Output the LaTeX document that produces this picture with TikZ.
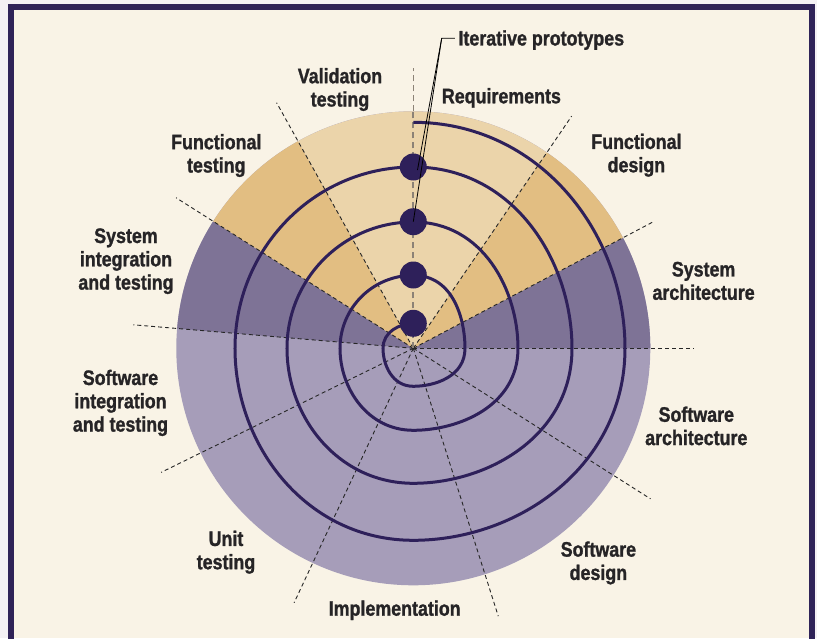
\documentclass[tikz,border=0pt]{standalone}
\usepackage{fontspec}
\newfontfamily\labfont{Liberation Sans}[FakeStretch=0.85,FakeBold=1.2]
\usetikzlibrary{calc}
\definecolor{bgcream}{RGB}{249,243,230}
\definecolor{outerc}{RGB}{244,241,244}
\definecolor{navy}{RGB}{46,32,90}
\definecolor{framec}{RGB}{47,35,88}
\definecolor{tanlight}{RGB}{235,212,170}
\definecolor{tandark}{RGB}{226,190,130}
\definecolor{purpdark}{RGB}{126,115,150}
\definecolor{purplight}{RGB}{166,157,185}
\definecolor{txt}{RGB}{38,36,38}
\definecolor{vgray}{RGB}{140,130,118}
\begin{document}
\begin{tikzpicture}[x=1pt,y=1pt,
  lab/.style={font=\labfont\bfseries\fontsize{21}{23.3}\selectfont, text=txt, inner sep=0pt, align=center},
  spokeline/.style={draw=black!85, line width=0.9pt, dash pattern=on 4pt off 3pt},
  vspoke/.style={draw=vgray, dash pattern=on 6pt off 4pt},
  pdot/.style={circle, fill=navy, inner sep=0pt, minimum size=27pt},
  spiralline/.style={draw=navy, line width=3pt},
  leader/.style={draw=black, line width=0.8pt}
]
\useasboundingbox (-413.3,-289.7) rectangle (403.7,348.3);
\fill[outerc] (-413.3,-289.7) rectangle (403.7,348.3);
\fill[bgcream] (-402.3,-289.7) rectangle (398.2,341.3);
\draw[framec, line width=6pt] (-402.3,-295) -- (-402.3,341.3) -- (398.2,341.3) -- (398.2,-295);

% disk
\coordinate (O) at (0,0);
\fill[purplight] (O) circle[radius=237pt];
\fill[purpdark] (O) -- (0:237) arc[start angle=0,end angle=27.8,radius=237pt] -- cycle;
\fill[purpdark] (O) -- (147.6:237) arc[start angle=147.6,end angle=175.2,radius=237pt] -- cycle;
\fill[tandark] (O) -- (27.8:237) arc[start angle=27.8,end angle=55.7,radius=237pt] -- cycle;
\fill[tandark] (O) -- (119.1:237) arc[start angle=119.1,end angle=147.6,radius=237pt] -- cycle;
\fill[tanlight] (O) -- (55.7:237) arc[start angle=55.7,end angle=119.1,radius=237pt] -- cycle;

% spokes
\foreach \a/\l [count=\i] in {0/281,27.8/270,55.7/281,119.1/281,147.6/281,175.2/281,206.2/281,244.9/281,287.6/281,327.6/281}
  \coordinate (e\i) at (\a:\l);
\foreach \i in {1,...,10} \draw[spokeline] (O) -- (e\i);
\coordinate (rim) at (90:237);
\coordinate (vtop) at (90:280);
\draw[vspoke, line width=2pt] (O) -- (rim);
\draw[vspoke, line width=1pt] (rim) -- (vtop);

% spiral
\coordinate (s0) at (0,24.7);
\coordinate (s1) at (-30.3,0);
\coordinate (s2) at (0,-38);
\coordinate (s3) at (51.7,0);
\coordinate (s4) at (0,73);
\coordinate (s5) at (-73.3,0);
\coordinate (s6) at (0,-82);
\coordinate (s7) at (104.7,0);
\coordinate (s8) at (0,126.3);
\coordinate (s9) at (-126.3,0);
\coordinate (s10) at (0,-135);
\coordinate (s11) at (158.7,0);
\coordinate (s12) at (0,181.3);
\coordinate (s13) at (-178.3,0);
\coordinate (s14) at (0,-192);
\coordinate (s15) at (211.7,0);
\coordinate (s16) at (0,226);
\draw[spiralline] (s0) .. controls +(180:13.64) and +(90:16.73) .. (s1)
 .. controls +(270:16.73) and +(180:20.99) .. (s2)
 .. controls +(0:20.99) and +(270:28.55) .. (s3)
 .. controls +(90:28.55) and +(0:40.32) .. (s4)
 .. controls +(180:40.32) and +(90:40.48) .. (s5)
 .. controls +(270:40.48) and +(180:45.29) .. (s6)
 .. controls +(0:45.29) and +(270:57.83) .. (s7)
 .. controls +(90:57.83) and +(0:69.76) .. (s8)
 .. controls +(180:69.76) and +(90:69.76) .. (s9)
 .. controls +(270:69.76) and +(180:74.56) .. (s10)
 .. controls +(0:74.56) and +(270:87.65) .. (s11)
 .. controls +(90:87.65) and +(0:100.13) .. (s12)
 .. controls +(180:100.13) and +(90:98.47) .. (s13)
 .. controls +(270:98.47) and +(180:106.04) .. (s14)
 .. controls +(0:106.04) and +(270:116.92) .. (s15)
 .. controls +(90:116.92) and +(0:124.82) .. (s16);

% prototype dots
\node[pdot] (d1) at (0,181.3) {};
\node[pdot] (d2) at (0,126.6) {};
\node[pdot] (d3) at (0,73.3) {};
\node[pdot] (d4) at (0,25) {};

% leader lines
\coordinate (lc) at (28.4,310);
\coordinate (lt) at (41.7,310);
\draw[leader] (lt) -- (lc) -- ($(d1.center)+(4.2,-3)$);
\draw[leader] (lc) -- (d2.center);

% labels
\node[lab, anchor=base west] (itp) at (45,302.8) {Iterative prototypes};
\node[lab, anchor=base west] (req) at (28.4,245) {Requirements};
\node[lab] (val) at (-73.3,258.8) {Validation\\testing};
\node[lab] (ftest) at (-197,192.8) {Functional\\testing};
\node[lab] (fdes) at (223.1,193.1) {Functional\\design};
\node[lab] (sysint) at (-287.3,87.1) {System\\integration\\and testing};
\node[lab] (sysarch) at (290.3,67.4) {System\\architecture};
\node[lab] (swint) at (-292.8,-54.6) {Software\\integration\\and testing};
\node[lab] (swarch) at (283,-77.6) {Software\\architecture};
\node[lab] (unit) at (-187.3,-203.9) {Unit\\testing};
\node[lab] (swdes) at (185.1,-214.6) {Software\\design};
\node[lab, anchor=base] (impl) at (-18.6,-267.4) {Implementation};
\end{tikzpicture}
\end{document}
